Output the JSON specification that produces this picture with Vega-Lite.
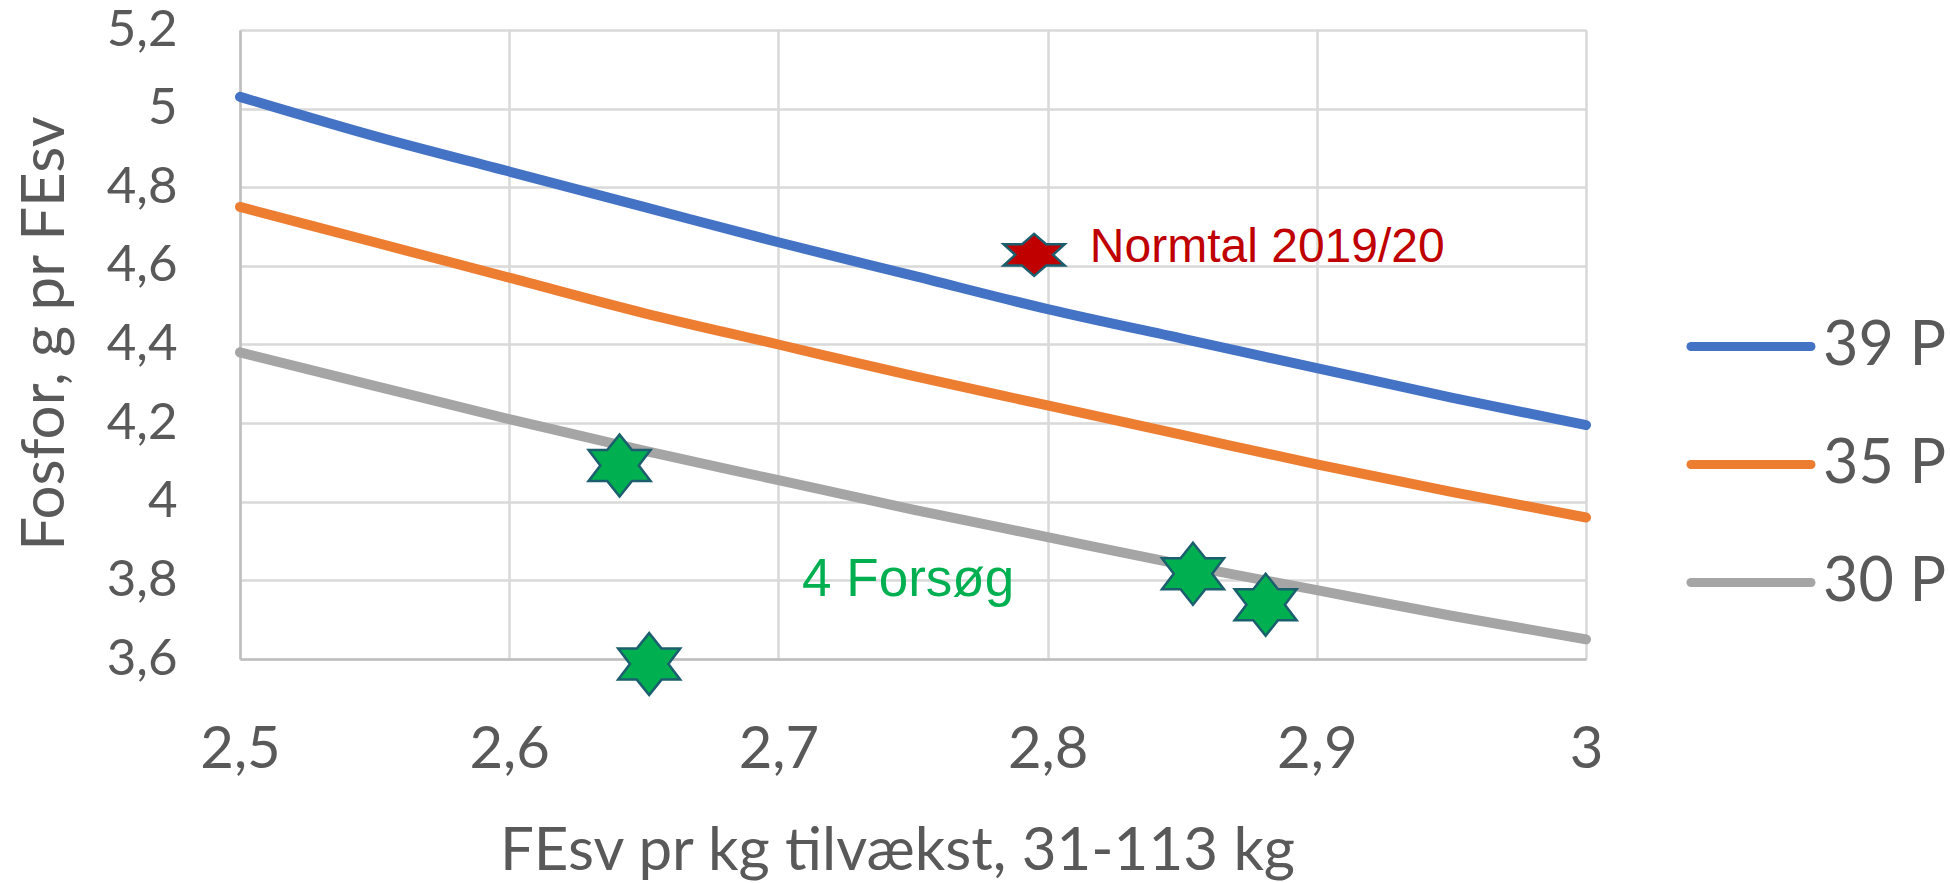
{
  "$schema": "https://vega.github.io/schema/vega-lite/v6.json",
  "width": 1346,
  "height": 629,
  "autosize": "none",
  "padding": {"left": 240, "top": 30, "right": 364, "bottom": 224},
  "background": "white",
  "config": {"view": {"stroke": null}, "font": "Lato"},
  "datasets": {
    "lines": [
      {"serie": "39 P", "fesv": 2.5, "fosfor": 5.03},
      {"serie": "39 P", "fesv": 2.55, "fosfor": 4.93},
      {"serie": "39 P", "fesv": 2.6, "fosfor": 4.84},
      {"serie": "39 P", "fesv": 2.65, "fosfor": 4.75},
      {"serie": "39 P", "fesv": 2.7, "fosfor": 4.66},
      {"serie": "39 P", "fesv": 2.75, "fosfor": 4.575},
      {"serie": "39 P", "fesv": 2.8, "fosfor": 4.49},
      {"serie": "39 P", "fesv": 2.85, "fosfor": 4.415},
      {"serie": "39 P", "fesv": 2.9, "fosfor": 4.34},
      {"serie": "39 P", "fesv": 2.95, "fosfor": 4.265},
      {"serie": "39 P", "fesv": 3.0, "fosfor": 4.195},
      {"serie": "35 P", "fesv": 2.5, "fosfor": 4.75},
      {"serie": "35 P", "fesv": 2.55, "fosfor": 4.66},
      {"serie": "35 P", "fesv": 2.6, "fosfor": 4.57},
      {"serie": "35 P", "fesv": 2.65, "fosfor": 4.48},
      {"serie": "35 P", "fesv": 2.7, "fosfor": 4.40},
      {"serie": "35 P", "fesv": 2.75, "fosfor": 4.32},
      {"serie": "35 P", "fesv": 2.8, "fosfor": 4.245},
      {"serie": "35 P", "fesv": 2.85, "fosfor": 4.17},
      {"serie": "35 P", "fesv": 2.9, "fosfor": 4.095},
      {"serie": "35 P", "fesv": 2.95, "fosfor": 4.025},
      {"serie": "35 P", "fesv": 3.0, "fosfor": 3.96},
      {"serie": "30 P", "fesv": 2.5, "fosfor": 4.38},
      {"serie": "30 P", "fesv": 2.55, "fosfor": 4.295},
      {"serie": "30 P", "fesv": 2.6, "fosfor": 4.21},
      {"serie": "30 P", "fesv": 2.65, "fosfor": 4.13},
      {"serie": "30 P", "fesv": 2.7, "fosfor": 4.055},
      {"serie": "30 P", "fesv": 2.75, "fosfor": 3.98},
      {"serie": "30 P", "fesv": 2.8, "fosfor": 3.91},
      {"serie": "30 P", "fesv": 2.85, "fosfor": 3.84},
      {"serie": "30 P", "fesv": 2.9, "fosfor": 3.775},
      {"serie": "30 P", "fesv": 2.95, "fosfor": 3.71},
      {"serie": "30 P", "fesv": 3.0, "fosfor": 3.65}
    ],
    "trials": [
      {"fesv": 2.641, "fosfor": 4.092},
      {"fesv": 2.652, "fosfor": 3.587},
      {"fesv": 2.854, "fosfor": 3.817},
      {"fesv": 2.881, "fosfor": 3.738}
    ],
    "norm": [
      {"fesv": 2.795, "fosfor": 4.628}
    ],
    "normLabel": [
      {"fesv": 2.8157, "fosfor": 4.609, "tekst": "Normtal 2019/20"}
    ],
    "trialLabel": [
      {"fesv": 2.7088, "fosfor": 3.761, "tekst": "4 Forsøg"}
    ]
  },
  "layer": [
    {
      "data": {"name": "lines"},
      "mark": {"type": "line", "strokeWidth": 10, "strokeCap": "round", "strokeJoin": "round", "interpolate": "monotone"},
      "encoding": {
        "x": {
          "field": "fesv", "type": "quantitative",
          "scale": {"domain": [2.5, 3.0], "nice": false, "zero": false},
          "axis": {
            "values": [2.5, 2.6, 2.7, 2.8, 2.9, 3.0],
            "labelExpr": "replace(format(datum.value, '.1~f'), '.', ',')",
            "title": "FEsv pr kg tilvækst, 31-113 kg",
            "grid": true, "gridColor": "#D9D9D9", "gridWidth": 2.5,
            "domainColor": "#BFBFBF", "domainWidth": 2.5,
            "ticks": false, "tickSize": 0,
            "labelFont": "Lato", "labelFontSize": 58, "labelColor": "#595959",
            "labelPadding": 108, "labelBaseline": "alphabetic",
            "labelFlush": false, "labelOverlap": false,
            "titleFont": "Lato", "titleFontSize": 60, "titleFontWeight": "normal", "titleColor": "#595959",
            "titleX": 657, "titleY": 210, "titleBaseline": "alphabetic", "titleAlign": "center"
          }
        },
        "y": {
          "field": "fosfor", "type": "quantitative",
          "scale": {"domain": [3.6, 5.2], "nice": false, "zero": false},
          "axis": {
            "values": [3.6, 3.8, 4.0, 4.2, 4.4, 4.6, 4.8, 5.0, 5.2],
            "labelExpr": "replace(format(datum.value, '.1~f'), '.', ',')",
            "title": "Fosfor, g pr FEsv",
            "grid": true, "gridColor": "#D9D9D9", "gridWidth": 2.5,
            "domainColor": "#BFBFBF", "domainWidth": 2.5,
            "ticks": false, "tickSize": 0,
            "labelFont": "Lato", "labelFontSize": 51, "labelColor": "#595959",
            "labelPadding": 63, "labelBaseline": "middle",
            "labelFlush": false, "labelOverlap": false,
            "titleFont": "Lato", "titleFontSize": 60, "titleFontWeight": "normal", "titleColor": "#595959",
            "titleAngle": 270, "titleX": -177, "titleY": 303, "titleBaseline": "alphabetic", "titleAlign": "center"
          }
        },
        "color": {
          "field": "serie", "type": "nominal",
          "sort": ["39 P", "35 P", "30 P"],
          "scale": {"domain": ["39 P", "35 P", "30 P"], "range": ["#4472C4", "#ED7D31", "#A5A5A5"]},
          "legend": {
            "title": null,
            "orient": "none",
            "legendX": 1476.5,
            "legendY": 282,
            "padding": 0,
            "symbolType": "M-2,0L2,0",
            "symbolSize": 3600,
            "symbolStrokeWidth": 9,
            "labelFont": "Lato",
            "labelFontSize": 61,
            "labelColor": "#595959",
            "labelOffset": 37.5,
            "labelLimit": 0,
            "rowPadding": 53,
            "encode": {"symbols": {"update": {"strokeCap": {"value": "round"}}}}
          }
        }
      }
    },
    {
      "data": {"name": "trials"},
      "mark": {
        "type": "point",
        "shape": "M0,-1L0.4,-0.5L1,-0.5L0.62,0L1,0.5L0.4,0.5L0,1L-0.4,0.5L-1,0.5L-0.62,0L-1,-0.5L-0.4,-0.5Z",
        "size": 3844, "filled": true, "fill": "#00B050", "stroke": "#1B5E6E", "strokeWidth": 2.5, "opacity": 1
      },
      "encoding": {
        "x": {"field": "fesv", "type": "quantitative"},
        "y": {"field": "fosfor", "type": "quantitative"}
      }
    },
    {
      "data": {"name": "norm"},
      "mark": {
        "type": "point",
        "shape": "M0,-0.69L0.4,-0.345L1,-0.345L0.62,0L1,0.345L0.4,0.345L0,0.69L-0.4,0.345L-1,0.345L-0.62,0L-1,-0.345L-0.4,-0.345Z",
        "size": 3721, "filled": true, "fill": "#C00000", "stroke": "#1B5E6E", "strokeWidth": 2.5, "opacity": 1
      },
      "encoding": {
        "x": {"field": "fesv", "type": "quantitative"},
        "y": {"field": "fosfor", "type": "quantitative"}
      }
    },
    {
      "data": {"name": "normLabel"},
      "mark": {"type": "text", "font": "Liberation Sans", "fontSize": 48, "color": "#C00000", "align": "left", "baseline": "alphabetic"},
      "encoding": {
        "x": {"field": "fesv", "type": "quantitative"},
        "y": {"field": "fosfor", "type": "quantitative"},
        "text": {"field": "tekst"}
      }
    },
    {
      "data": {"name": "trialLabel"},
      "mark": {"type": "text", "font": "Liberation Sans", "fontSize": 53, "color": "#00B050", "align": "left", "baseline": "alphabetic"},
      "encoding": {
        "x": {"field": "fesv", "type": "quantitative"},
        "y": {"field": "fosfor", "type": "quantitative"},
        "text": {"field": "tekst"}
      }
    }
  ]
}
